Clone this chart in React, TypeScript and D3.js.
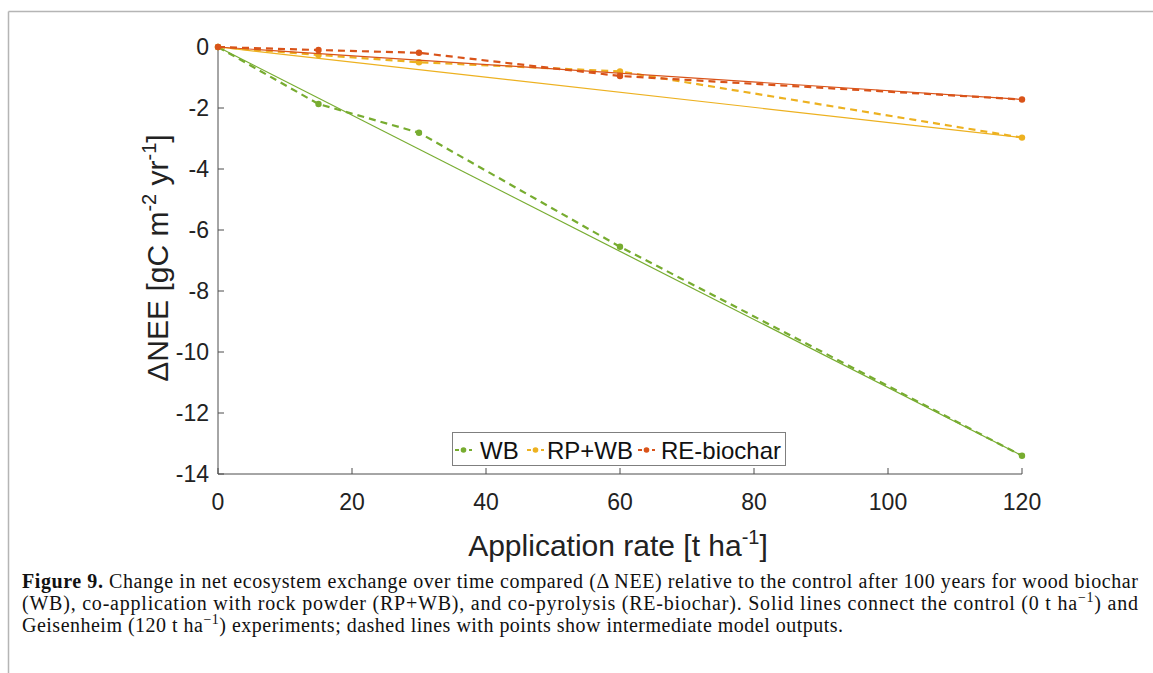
import React from "react";
import * as d3 from "d3";

const rates = [0, 15, 30, 60, 120];
const wb = [0, -1.87, -2.81, -6.55, -13.4];
const rpwb = [0, -0.26, -0.5, -0.8, -2.97];
const rebio = [0, -0.1, -0.19, -0.95, -1.72];
const xTicks = [0, 20, 40, 60, 80, 100, 120];
const yTicks = [0, -2, -4, -6, -8, -10, -12, -14];
const seriesNames = ["WB", "RP+WB", "RE-biochar"];
const seriesColors = ["#77AC30", "#EDB120", "#D95319"];
const seriesValues = [wb, rpwb, rebio];

export default function App() {
  const x = d3.scaleLinear().domain([0, 120]).range([218, 1022]);
  const y = d3.scaleLinear().domain([0, -14]).range([47, 474]);
  const line = d3
    .line<[number, number]>()
    .x((d) => x(d[0]))
    .y((d) => y(d[1]));
  const font = "'Liberation Sans', Arial, sans-serif";
  const serif = "'Liberation Serif', 'Times New Roman', serif";
  const legendX = [455, 527, 638];
  const legendTextX = [480, 547, 661];
  return (
    <svg
      width={1153}
      height={673}
      style={{ position: "absolute", left: 0, top: 0, background: "#fff" }}
    >
      <line x1={8.5} y1={11.5} x2={1153} y2={11.5} stroke="#b5b5b5" strokeWidth={1.5} />
      <line x1={8.5} y1={11.5} x2={8.5} y2={673} stroke="#b5b5b5" strokeWidth={1.5} />
      {/* axes */}
      <line x1={218} y1={47} x2={218} y2={474} stroke="#4d4d4d" strokeWidth={1} />
      <line x1={218} y1={474} x2={1022} y2={474} stroke="#4d4d4d" strokeWidth={1} />
      {yTicks.map((t) => (
        <g key={"y" + t}>
          <line x1={218} x2={224} y1={y(t)} y2={y(t)} stroke="#4d4d4d" />
          <text
            x={209}
            y={y(t)}
            dy="0.36em"
            textAnchor="end"
            fontFamily={font}
            fontSize={23}
            fill="#222"
          >
            {t}
          </text>
        </g>
      ))}
      {xTicks.map((t) => (
        <g key={"x" + t}>
          <line x1={x(t)} x2={x(t)} y1={474} y2={468} stroke="#4d4d4d" />
          <text
            x={x(t)}
            y={510}
            textAnchor="middle"
            fontFamily={font}
            fontSize={23}
            fill="#222"
          >
            {t}
          </text>
        </g>
      ))}
      {/* series */}
      {seriesValues.map((vals, i) => {
        const pts: [number, number][] = rates.map((r, j) => [r, vals[j]]);
        const ends: [number, number][] = [pts[0], pts[pts.length - 1]];
        return (
          <g key={"s" + i}>
            <path d={line(ends) || ""} fill="none" stroke={seriesColors[i]} strokeWidth={1.2} />
            <path
              d={line(pts) || ""}
              fill="none"
              stroke={seriesColors[i]}
              strokeWidth={2.2}
              strokeDasharray="7,5"
            />
            {pts.map((p, j) => (
              <circle key={j} cx={x(p[0])} cy={y(p[1])} r={3.2} fill={seriesColors[i]} />
            ))}
          </g>
        );
      })}
      {/* legend */}
      <rect x={452.5} y={432.5} width={333} height={33} fill="#fff" stroke="#7f7f7f" strokeWidth={1} />
      {seriesNames.map((n, i) => (
        <g key={"l" + i}>
          <line
            x1={legendX[i]}
            x2={legendX[i] + 17}
            y1={450}
            y2={450}
            stroke={seriesColors[i]}
            strokeWidth={2}
            strokeDasharray="4,3"
          />
          <circle cx={legendX[i] + 8.5} cy={450} r={2.8} fill={seriesColors[i]} />
          <text
            x={legendTextX[i]}
            y={458.5}
            fontFamily={font}
            fontSize={24}
            fill="#111"
          >
            {n}
          </text>
        </g>
      ))}
      {/* axis labels */}
      <text
        x={618}
        y={556}
        textAnchor="middle"
        fontFamily={font}
        fontSize={30}
        fill="#222"
      >
        Application rate [t ha
        <tspan dy={-12} fontSize={20}>-1</tspan>
        <tspan dy={12}>]</tspan>
      </text>
      <text
        transform="translate(168,258) rotate(-90)"
        textAnchor="middle"
        fontFamily={font}
        fontSize={30}
        fill="#222"
      >
        ΔNEE [gC m
        <tspan dy={-12} fontSize={20}>-2</tspan>
        <tspan dy={12}> yr</tspan>
        <tspan dy={-12} fontSize={20}>-1</tspan>
        <tspan dy={12}>]</tspan>
      </text>
      {/* caption */}
      <text x={22} y={588} fontFamily={serif} fontSize={20} fill="#111" textLength={1116} lengthAdjust="spacing">
        <tspan fontWeight="bold">Figure 9.</tspan> Change in net ecosystem exchange over time compared (Δ NEE) relative to the control after 100 years for wood biochar
      </text>
      <text x={22} y={610} fontFamily={serif} fontSize={20} fill="#111" textLength={1116} lengthAdjust="spacing">
        (WB), co-application with rock powder (RP+WB), and co-pyrolysis (RE-biochar). Solid lines connect the control (0 t ha
        <tspan dy={-8} fontSize={14}>−1</tspan>
        <tspan dy={8}>) and</tspan>
      </text>
      <text x={22} y={632} fontFamily={serif} fontSize={20} fill="#111" textLength={821} lengthAdjust="spacing">
        Geisenheim (120 t ha
        <tspan dy={-8} fontSize={14}>−1</tspan>
        <tspan dy={8}>) experiments; dashed lines with points show intermediate model outputs.</tspan>
      </text>
    </svg>
  );
}
